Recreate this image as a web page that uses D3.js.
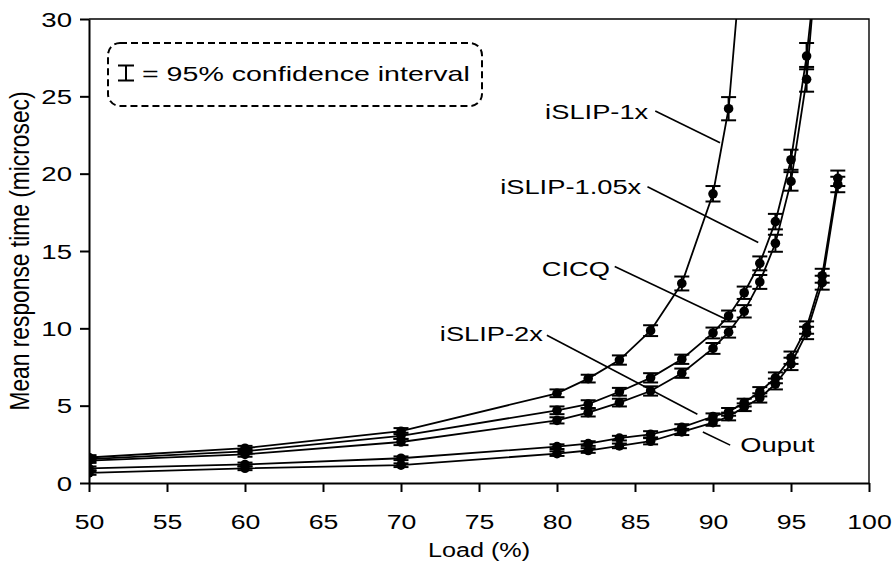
<!DOCTYPE html>
<html>
<head>
<meta charset="utf-8">
<script src="https://cdn.jsdelivr.net/npm/d3@7"></script>
<style>
  html, body { margin: 0; padding: 0; background: #fff; }
  svg { display: block; }
  text { font-family: "Liberation Sans", Arial, sans-serif; fill: #000; }
</style>
</head>
<body>
<svg id="chart" width="896" height="567"></svg>
<script>
// Load points (%) and mean response times (microsec) with 95% CI half-widths
const loadsShort = [50, 60, 70, 80, 82, 84, 86, 88, 90, 91, 92];
const loadsMid   = [50, 60, 70, 80, 82, 84, 86, 88, 90, 91, 92, 93, 94, 95, 96, 97];
const loadsLong  = [50, 60, 70, 80, 82, 84, 86, 88, 90, 91, 92, 93, 94, 95, 96, 97, 98];

const islip1x     = [1.65, 2.25, 3.35, 5.8, 6.75, 7.95, 9.85, 12.9, 18.7, 24.2, 36.0];
const islip1xErr  = [0.15, 0.15, 0.2, 0.25, 0.25, 0.3, 0.35, 0.45, 0.5, 0.75, 1.0];

const islip105x    = [1.55, 2.05, 3.05, 4.7, 5.1, 5.9, 6.8, 8.0, 9.7, 10.8, 12.3, 14.2, 16.9, 20.9, 27.6, 37.0];
const islip105xErr = [0.15, 0.15, 0.2, 0.25, 0.25, 0.25, 0.3, 0.3, 0.35, 0.35, 0.4, 0.45, 0.5, 0.65, 0.85, 1.0];

const cicq    = [1.45, 1.85, 2.65, 4.05, 4.55, 5.2, 5.95, 7.1, 8.7, 9.75, 11.1, 13.0, 15.5, 19.5, 26.1, 38.0];
const cicqErr = [0.15, 0.15, 0.2, 0.2, 0.25, 0.25, 0.3, 0.3, 0.35, 0.35, 0.4, 0.45, 0.55, 0.6, 0.8, 1.0];

const islip2x    = [0.95, 1.2, 1.6, 2.35, 2.55, 2.9, 3.15, 3.6, 4.3, 4.6, 5.2, 5.9, 6.8, 8.1, 10.05, 13.4, 19.7];
const islip2xErr = [0.12, 0.12, 0.12, 0.15, 0.15, 0.15, 0.2, 0.2, 0.2, 0.25, 0.25, 0.3, 0.35, 0.4, 0.4, 0.45, 0.5];

const output    = [0.65, 0.95, 1.15, 1.9, 2.1, 2.4, 2.7, 3.3, 3.9, 4.3, 4.9, 5.5, 6.4, 7.7, 9.7, 12.95, 19.3];
const outputErr = [0.12, 0.12, 0.12, 0.15, 0.15, 0.15, 0.2, 0.2, 0.2, 0.25, 0.25, 0.3, 0.35, 0.4, 0.4, 0.45, 0.5];

const xTicks = [50, 55, 60, 65, 70, 75, 80, 85, 90, 95, 100];
const yTicks = [0, 5, 10, 15, 20, 25, 30];

// Curve labels with leader lines, in data coordinates (load, time)
const labelNames  = ["iSLIP-1x", "iSLIP-1.05x", "CICQ", "iSLIP-2x", "Ouput"];
const labelAt     = [[85.85, 24.0], [85.4, 19.15], [83.4, 13.85], [79.1, 9.65], [91.75, 2.45]];
const labelAnchor = ["end", "end", "end", "end", "start"];
const leaderFrom  = [[86.3, 24.05], [85.8, 19.15], [83.7, 14.0], [79.35, 9.55], [91.1, 2.45]];
const leaderTo    = [[90.45, 22.0], [92.9, 15.55], [90.8, 10.6], [89.0, 4.45], [89.35, 3.3]];

const series = [
  { name: "iSLIP-1x",    x: loadsShort, y: islip1x,   e: islip1xErr },
  { name: "iSLIP-1.05x", x: loadsMid,   y: islip105x, e: islip105xErr },
  { name: "CICQ",        x: loadsMid,   y: cicq,      e: cicqErr },
  { name: "iSLIP-2x",    x: loadsLong,  y: islip2x,   e: islip2xErr },
  { name: "Ouput",       x: loadsLong,  y: output,    e: outputErr }
].map(s => ({ name: s.name, pts: s.x.map((v, i) => ({ x: v, y: s.y[i], e: s.e[i] })) }));

const W = 896, H = 567;
const m = { left: 89, right: 27, top: 19, bottom: 84 };
const SX = 1.38;   // horizontal widening of the lettering
const FS = 20;

const svg = d3.select("#chart");
const x = d3.scaleLinear().domain([50, 100]).range([m.left, W - m.right]);
const y = d3.scaleLinear().domain([0, 30]).range([H - m.bottom, m.top]);

function label(g, px, py, str, anchor, size, sx) {
  return g.append("text")
    .attr("transform", `translate(${px},${py}) scale(${sx || SX},1)`)
    .attr("text-anchor", anchor || "start")
    .attr("dominant-baseline", "central")
    .style("font-size", (size || FS) + "px")
    .text(str);
}

// clip region for the curves
svg.append("defs").append("clipPath").attr("id", "plotClip")
  .append("rect")
  .attr("x", m.left).attr("y", m.top)
  .attr("width", x(100) - m.left).attr("height", y(0) - m.top);

// frame: top and right edges
svg.append("path")
  .attr("d", `M${x(50)},${y(30)}H${x(100)}V${y(0)}`)
  .attr("fill", "none").attr("stroke", "#000").attr("stroke-width", 1.4);

// axes
const xAxis = svg.append("g")
  .attr("transform", `translate(0,${y(0)})`)
  .call(d3.axisBottom(x).tickValues(xTicks).tickSize(9).tickSizeOuter(0).tickPadding(22));
const yAxis = svg.append("g")
  .attr("transform", `translate(${x(50)},0)`)
  .call(d3.axisLeft(y).tickValues(yTicks).tickSize(9).tickSizeOuter(0).tickPadding(8));

[xAxis, yAxis].forEach(g => {
  g.select(".domain").attr("stroke-width", 2);
  g.selectAll(".tick line").attr("stroke-width", 2);
  g.selectAll(".tick text")
    .style("font-size", FS + "px")
    .style("font-family", '"Liberation Sans", Arial, sans-serif');
});
yAxis.selectAll(".tick text").each(function () {
  const t = d3.select(this);
  t.attr("x", +t.attr("x") / SX).attr("transform", `scale(${SX},1)`).attr("dy", "0.35em");
});
xAxis.selectAll(".tick text").attr("transform", `scale(1.3,1)`).style("font-size", "20.5px");

// axis titles
svg.append("text")
  .attr("transform", `translate(${(x(50) + x(100)) / 2},557) scale(1.2,1)`)
  .attr("text-anchor", "middle")
  .style("font-size", "21px")
  .text("Load (%)");
svg.append("text")
  .attr("transform", `translate(29,${(y(0) + y(30)) / 2}) rotate(-90) scale(1.14,1.38)`)
  .attr("text-anchor", "middle")
  .style("font-size", FS + "px")
  .text("Mean response time (microsec)");

// curves, error bars and points
const plot = svg.append("g").attr("clip-path", "url(#plotClip)");
const line = d3.line().x(d => x(d.x)).y(d => y(d.y));
const capHalf = 7.5;

series.forEach(s => {
  const g = plot.append("g");
  g.append("path").datum(s.pts).attr("d", line)
    .attr("fill", "none").attr("stroke", "#000").attr("stroke-width", 1.8);
  const eb = g.selectAll(".eb").data(s.pts).enter().append("g");
  eb.append("line")
    .attr("x1", d => x(d.x)).attr("x2", d => x(d.x))
    .attr("y1", d => y(d.y - d.e)).attr("y2", d => y(d.y + d.e))
    .attr("stroke", "#000").attr("stroke-width", 2);
  [1, -1].forEach(sg => {
    eb.append("line")
      .attr("x1", d => x(d.x) - capHalf).attr("x2", d => x(d.x) + capHalf)
      .attr("y1", d => y(d.y + sg * d.e)).attr("y2", d => y(d.y + sg * d.e))
      .attr("stroke", "#000").attr("stroke-width", 2);
  });
  g.selectAll("circle").data(s.pts).enter().append("circle")
    .attr("cx", d => x(d.x)).attr("cy", d => y(d.y)).attr("r", 4.8)
    .attr("fill", "#000");
});

// curve labels and leader lines
const ann = svg.append("g");
labelNames.forEach((nm, i) => {
  ann.append("line")
    .attr("x1", x(leaderFrom[i][0])).attr("y1", y(leaderFrom[i][1]))
    .attr("x2", x(leaderTo[i][0])).attr("y2", y(leaderTo[i][1]))
    .attr("stroke", "#000").attr("stroke-width", 1.6);
  label(ann, x(labelAt[i][0]), y(labelAt[i][1]), nm, labelAnchor[i], 21, 1.3);
});

// confidence-interval key
const key = svg.append("g");
key.append("rect")
  .attr("x", 108).attr("y", 43).attr("width", 374).attr("height", 63)
  .attr("rx", 12).attr("ry", 12)
  .attr("fill", "#fff").attr("stroke", "#000").attr("stroke-width", 2)
  .attr("stroke-dasharray", "7,4");
const kx = 126, ky = 73, kh = 7.5, kw = 8;
key.append("path")
  .attr("d", `M${kx - kw},${ky - kh}H${kx + kw}M${kx},${ky - kh}V${ky + kh}M${kx - kw},${ky + kh}H${kx + kw}`)
  .attr("fill", "none").attr("stroke", "#000").attr("stroke-width", 2);
label(key, 142, 74, "= 95% confidence interval", "start", 20.7);
</script>
</body>
</html>
